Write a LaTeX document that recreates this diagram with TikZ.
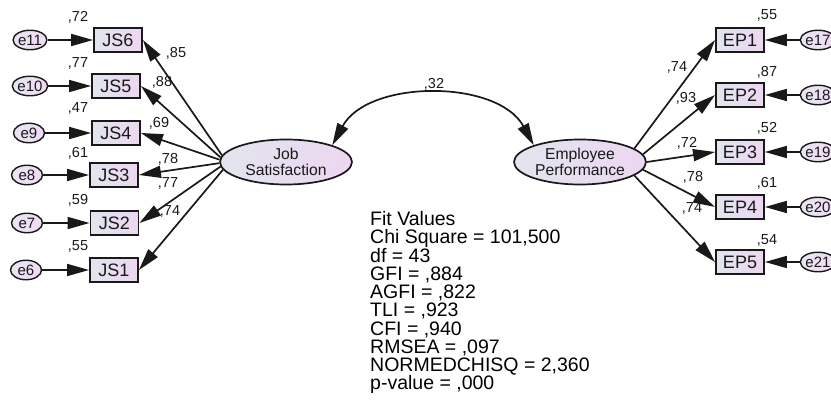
\documentclass[tikz,border=0pt]{standalone}
\usepackage{fontspec}
\setmainfont{Liberation Sans}
\usetikzlibrary{arrows.meta,shapes.geometric}

\definecolor{boxL}{RGB}{226,229,238}
\definecolor{boxR}{RGB}{237,214,241}
\definecolor{errL}{RGB}{232,229,242}
\definecolor{errR}{RGB}{241,218,245}
\definecolor{inkc}{RGB}{25,25,25}

\tikzset{
  obsbox/.style={rectangle, draw=inkc, line width=1.9pt, minimum width=48pt,
    minimum height=24.5pt, inner sep=0pt, left color=boxL, right color=boxR,
    font=\fontsize{18}{18}\selectfont, text=inkc},
  errnode/.style={ellipse, draw=inkc, line width=1.4pt, minimum width=31pt,
    minimum height=19.5pt, inner sep=0pt, left color=errL, right color=errR,
    font=\fontsize{15}{15}\selectfont, text=inkc},
  latent/.style={ellipse, draw=inkc, line width=1.7pt, minimum width=132pt,
    minimum height=45pt, inner sep=0pt, left color=boxL, right color=boxR,
    align=center, font=\fontsize{15.7}{15.5}\selectfont, text=inkc},
  arr/.style={-{Triangle[length=22pt,width=12pt]}, line width=1.7pt, draw=inkc},
  darr/.style={{Triangle[length=22pt,width=12pt]}-{Triangle[length=22pt,width=12pt]},
    line width=1.7pt, draw=inkc},
  lab/.style={inner sep=0pt, font=\fontsize{14.5}{14.5}\selectfont, text=inkc},
  fit/.style={inner sep=0pt, align=left, font=\fontsize{19.5}{18.1}\selectfont, text=black}
}

\begin{document}
\begin{tikzpicture}[x=1pt,y=-1pt]
\useasboundingbox (0,0) rectangle (831,401);
\clip (0,0) rectangle (831,401);

% latent variables
\node[latent] (jsl) at (286,162) {Job\\Satisfaction};
\node[latent] (epl) at (580,162) {Employee\\Performance};

% Job Satisfaction indicators and their errors
\node[obsbox] (js6) at (118,40)  {JS6};
\node[obsbox] (js5) at (116,86)  {JS5};
\node[obsbox] (js4) at (116,133) {JS4};
\node[obsbox] (js3) at (114,175) {JS3};
\node[obsbox] (js2) at (114.5,223) {JS2};
\node[obsbox] (js1) at (114,270) {JS1};

\node[errnode] (e11) at (30,40)  {e11};
\node[errnode] (e10) at (30,86)  {e10};
\node[errnode] (e9)  at (29,133) {e9};
\node[errnode] (e8)  at (27,175) {e8};
\node[errnode] (e7)  at (27,223) {e7};
\node[errnode] (e6)  at (26,270) {e6};

\draw[arr] (e11) -- (js6);
\draw[arr] (e10) -- (js5);
\draw[arr] (e9)  -- (js4);
\draw[arr] (e8)  -- (js3);
\draw[arr] (e7)  -- (js2);
\draw[arr] (e6)  -- (js1);

\draw[arr] (jsl.174) -- (js6.east);
\draw[arr] (jsl.176) -- (js5.east);
\draw[arr] (jsl.178) -- (js4.east);
\draw[arr] (jsl.181) -- (js3.east);
\draw[arr] (jsl.184) -- (js2.east);
\draw[arr] (jsl.187) -- (js1.east);

% squared multiple correlations
\node[lab] (r6) at (78,17)  {,72};
\node[lab] (r5) at (78,63)  {,77};
\node[lab] (r4) at (78,108) {,47};
\node[lab] (r3) at (78,153) {,61};
\node[lab] (r2) at (78,200) {,59};
\node[lab] (r1) at (78,246) {,55};

% standardized loadings
\node[lab] (l6) at (176,53)  {,85};
\node[lab] (l5) at (162,82)  {,88};
\node[lab] (l4) at (159,123) {,69};
\node[lab] (l3) at (168,159) {,78};
\node[lab] (l2) at (168,183) {,77};
\node[lab] (l1) at (170,211) {,74};

% Employee Performance indicators and their errors
\node[obsbox] (ep1) at (740,40)  {EP1};
\node[obsbox] (ep2) at (740,95)  {EP2};
\node[obsbox] (ep3) at (740,152) {EP3};
\node[obsbox] (ep4) at (740,207) {EP4};
\node[obsbox] (ep5) at (740,262) {EP5};

\node[errnode] (e17) at (818,40)  {e17};
\node[errnode] (e18) at (818,95)  {e18};
\node[errnode] (e19) at (818,152) {e19};
\node[errnode] (e20) at (818,207) {e20};
\node[errnode] (e21) at (818,262) {e21};

\draw[arr] (e17) -- (ep1);
\draw[arr] (e18) -- (ep2);
\draw[arr] (e19) -- (ep3);
\draw[arr] (e20) -- (ep4);
\draw[arr] (e21) -- (ep5);

\draw[arr] (epl.14)  -- (ep1.west);
\draw[arr] (epl.7)   -- (ep2.west);
\draw[arr] (epl.0)   -- (ep3.west);
\draw[arr] (epl.-7)  -- (ep4.west);
\draw[arr] (epl.-14) -- (ep5.west);

\node[lab] (q1) at (767,15)  {,55};
\node[lab] (q2) at (767,72)  {,87};
\node[lab] (q3) at (767,128) {,52};
\node[lab] (q4) at (767,183) {,61};
\node[lab] (q5) at (767,240) {,54};

\node[lab] (m1) at (677,67)  {,74};
\node[lab] (m2) at (686,98)  {,93};
\node[lab] (m3) at (687,143) {,72};
\node[lab] (m4) at (693,177) {,78};
\node[lab] (m5) at (692,208) {,74};

% correlation between the latent variables
\draw[darr] (jsl.20) .. controls +(36,-66) and +(-36,-66) .. (epl.160);
\node[lab] (corr) at (434,84) {,32};

% fit indices
\node[fit, anchor=north west] (fitv) at (370,211) {Fit Values\\
Chi Square = 101,500\\
df = 43\\
GFI = ,884\\
AGFI = ,822\\
TLI = ,923\\
CFI = ,940\\
RMSEA = ,097\\
NORMEDCHISQ = 2,360\\
p-value = ,000};
\end{tikzpicture}
\end{document}
